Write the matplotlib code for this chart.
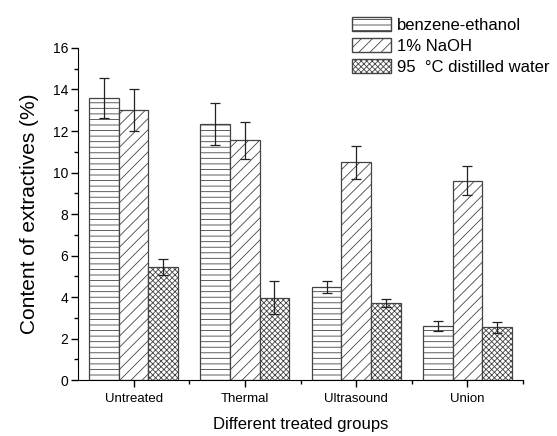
import numpy as np
import matplotlib.pyplot as plt
from matplotlib.patches import Patch
from matplotlib.ticker import MultipleLocator

plt.rcParams['font.family'] = ['Liberation Sans', 'DejaVu Sans']
plt.rcParams['hatch.linewidth'] = 0.6
plt.rcParams['hatch.color'] = 'black'

# Data
groups = ['Untreated', 'Thermal', 'Ultrasound', 'Union']
series = ['benzene-ethanol', '1% NaOH', '95  \u00b0C distilled water']
benzene = [13.6, 12.35, 4.5, 2.6]
benzene_err = [0.97, 1.0, 0.3, 0.24]
naoh = [13.0, 11.55, 10.5, 9.6]
naoh_err = [1.0, 0.9, 0.8, 0.7]
water = [5.46, 3.98, 3.73, 2.54]
water_err = [0.4, 0.8, 0.2, 0.25]

values = [benzene, naoh, water]
errors = [benzene_err, naoh_err, water_err]
hatches = ['---', '///', 'xxxxxx']

fig = plt.figure(figsize=(5.57, 4.36), dpi=100)
ax = fig.add_axes([0.140, 0.128, 0.799, 0.762])

x = np.arange(len(groups))
w = 0.266
for i in range(3):
    ax.bar(x + (i - 1) * w, values[i], w, yerr=errors[i], color='white',
           edgecolor='#444444', linewidth=0.9, hatch=hatches[i],
           error_kw=dict(ecolor='#222222', elinewidth=0.9, capsize=3.5, capthick=0.9))

ax.set_xlim(-0.5, 3.5)
ax.set_ylim(0, 16)
ax.set_xticks(x)
ax.set_xticklabels(groups, fontsize=9.5)
ax.set_xticks(x + 0.5, minor=True)
ax.yaxis.set_major_locator(MultipleLocator(2))
ax.yaxis.set_minor_locator(MultipleLocator(1))
ax.tick_params(axis='y', labelsize=10, pad=2)
ax.tick_params(axis='x', pad=4)
ax.tick_params(which='major', length=5, width=1)
ax.tick_params(which='minor', length=3, width=1)
ax.spines['top'].set_visible(False)
ax.spines['right'].set_visible(False)
ax.set_xlabel('Different treated groups', fontsize=12, labelpad=9)
ax.set_ylabel('Content of extractives (%)', fontsize=15, labelpad=10)

handles = [Patch(facecolor='white', edgecolor='#444444', hatch=h, label=s)
           for h, s in zip(hatches, series)]
fig.legend(handles=handles, loc='upper left', bbox_to_anchor=(352 / 557, 1 - 17 / 436),
           frameon=False, fontsize=12, handlelength=2.35, handleheight=0.9,
           handletextpad=0.35, labelspacing=0.32, borderaxespad=0, borderpad=0)

plt.savefig('out.png', dpi=100)
